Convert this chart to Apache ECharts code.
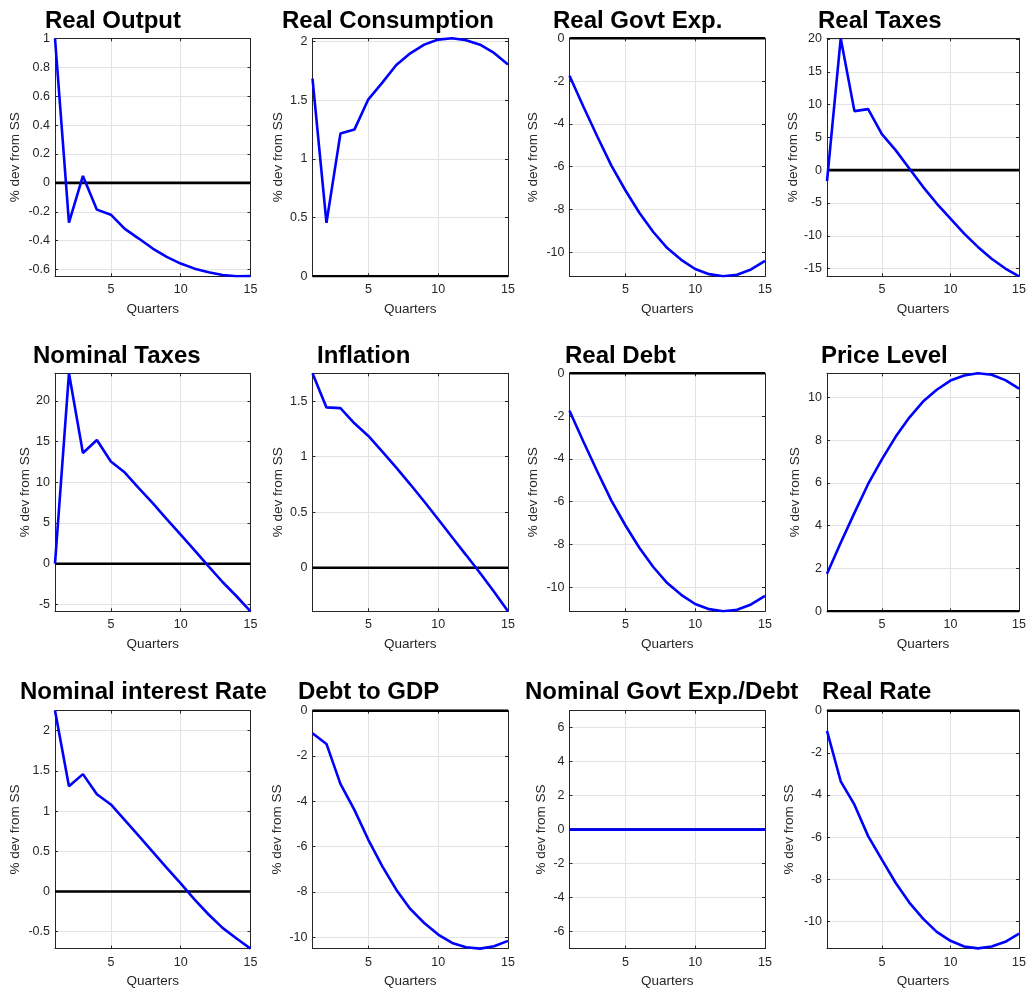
<!DOCTYPE html>
<html>
<head>
<meta charset="utf-8">
<script src="https://cdn.jsdelivr.net/npm/echarts@6/dist/echarts.min.js"></script>
<style>html,body{margin:0;padding:0;background:#fff}#c{width:1029px;height:992px}</style>
</head>
<body>
<div id="c"></div>
<script>
// ---------- data ----------
const quarters = [1,2,3,4,5,6,7,8,9,10,11,12,13,14,15];
const titles = ['Real Output','Real Consumption','Real Govt Exp.','Real Taxes',
                'Nominal Taxes','Inflation','Real Debt','Price Level',
                'Nominal interest Rate','Debt to GDP','Nominal Govt Exp./Debt','Real Rate'];
const realOutput      = [1.0,-0.275,0.048,-0.185,-0.22,-0.318,-0.385,-0.454,-0.512,-0.558,-0.593,-0.618,-0.637,-0.646,-0.645];
const realConsumption = [1.685,0.455,1.216,1.25,1.508,1.65,1.80,1.90,1.974,2.017,2.028,2.011,1.974,1.903,1.804];
const realGovtExp     = [-1.75,-3.2,-4.6,-5.95,-7.1,-8.15,-9.05,-9.8,-10.35,-10.78,-11.02,-11.12,-11.05,-10.8,-10.4];
const realTaxes       = [-1.68,20.1,9.0,9.3,5.5,3.05,0.25,-2.54,-5.09,-7.38,-9.67,-11.7,-13.5,-15.0,-16.18];
const nominalTaxes    = [0.0,23.4,13.6,15.2,12.56,11.2,9.28,7.44,5.48,3.56,1.64,-0.33,-2.25,-4.0,-5.85];
const inflation       = [1.75,1.443,1.437,1.30,1.186,1.045,0.901,0.751,0.596,0.437,0.275,0.114,-0.048,-0.216,-0.392];
const realDebt        = [-1.75,-3.2,-4.6,-5.95,-7.1,-8.15,-9.05,-9.8,-10.35,-10.78,-11.02,-11.12,-11.05,-10.8,-10.4];
const priceLevel      = [1.75,3.2,4.6,5.95,7.1,8.15,9.05,9.8,10.35,10.78,11.02,11.12,11.05,10.8,10.4];
const nominalRate     = [2.25,1.31,1.46,1.21,1.083,0.888,0.693,0.494,0.295,0.10,-0.10,-0.286,-0.452,-0.585,-0.71];
const debtToGDP       = [-1.0,-1.47,-3.23,-4.38,-5.7,-6.87,-7.9,-8.75,-9.37,-9.88,-10.25,-10.44,-10.5,-10.4,-10.16];
const nomGovtExpDebt  = [0,0,0,0,0,0,0,0,0,0,0,0,0,0,0];
const realRate        = [-0.96,-3.35,-4.46,-5.95,-7.06,-8.16,-9.1,-9.86,-10.49,-10.91,-11.18,-11.27,-11.18,-10.96,-10.57];
const panelData = [realOutput,realConsumption,realGovtExp,realTaxes,nominalTaxes,inflation,
                   realDebt,priceLevel,nominalRate,debtToGDP,nomGovtExpDebt,realRate];
const xTicks = [5,10,15];
const yTicks = [
  [-0.6,-0.4,-0.2,0,0.2,0.4,0.6,0.8,1],
  [0,0.5,1,1.5,2],
  [-10,-8,-6,-4,-2,0],
  [-15,-10,-5,0,5,10,15,20],
  [-5,0,5,10,15,20],
  [0,0.5,1,1.5],
  [-10,-8,-6,-4,-2,0],
  [0,2,4,6,8,10],
  [-0.5,0,0.5,1,1.5,2],
  [-10,-8,-6,-4,-2,0],
  [-6,-4,-2,0,2,4,6],
  [-10,-8,-6,-4,-2,0]
];
const yLimits = [
  [-0.646,1.0],[0,2.028],[-11.12,0],[-16.18,20.1],
  [-5.85,23.4],[-0.392,1.75],[-11.12,0],[0,11.12],
  [-0.71,2.25],[-10.5,0],[-7,7],[-11.28,0]
];
const xLabel = 'Quarters';
const yLabel = '% dev from SS';

// ---------- layout ----------
const colLeft = [55, 312.5, 569.5, 827];
const rowTop = [38.3, 373.3, 710.6];
const gw = 195.5, gh = 238;
const titleLeft = [45,282,553,818, 33,317,565,821, 20,298,525,822];
const titleTop = [9, 344, 680];
const yNameGap = [33,27,29,27, 23,27,29,25, 33,28,21,31];
const axisColor = '#262626';
const gridColor = '#e3e3e3';
const tickFont = 12.5, nameFont = 13.5;
const fam = '"Liberation Sans", Arial, Helvetica, sans-serif';

const grid = [], xAxis = [], yAxis = [], series = [], title = [];
panelData.forEach((vals, i) => {
  const r = Math.floor(i / 4), c = i % 4;
  grid.push({left: colLeft[c], top: rowTop[r], width: gw, height: gh, containLabel: false});
  title.push({text: titles[i], left: titleLeft[i], top: titleTop[r], padding: 0,
    textStyle: {fontFamily: fam, fontSize: 24, fontWeight: 'bold', color: '#000'}});
  const lineStyle = {color: axisColor, width: 1};
  // bottom x
  xAxis.push({type: 'value', gridIndex: i, min: 1, max: 15, position: 'bottom',
    name: xLabel, nameLocation: 'middle', nameGap: 26,
    nameTextStyle: {fontFamily: fam, fontSize: nameFont, color: axisColor},
    axisLine: {show: true, onZero: false, lineStyle},
    axisTick: {show: true, inside: true, length: 3, customValues: xTicks, lineStyle},
    axisLabel: {show: true, margin: 7, customValues: xTicks, fontFamily: fam, fontSize: tickFont, color: axisColor},
    splitLine: {show: true, lineStyle: {color: gridColor, width: 1}}
  });
  // top x (box)
  xAxis.push({type: 'value', gridIndex: i, min: 1, max: 15, position: 'top',
    axisLine: {show: true, onZero: false, lineStyle},
    axisTick: {show: true, inside: true, length: 3, customValues: xTicks, lineStyle},
    axisLabel: {show: false}, splitLine: {show: false}
  });
  // left y
  yAxis.push({type: 'value', gridIndex: i, min: yLimits[i][0], max: yLimits[i][1], position: 'left',
    name: yLabel, nameLocation: 'middle', nameGap: yNameGap[i],
    nameTextStyle: {fontFamily: fam, fontSize: nameFont, color: axisColor},
    axisLine: {show: true, onZero: false, lineStyle},
    axisTick: {show: true, inside: true, length: 3, customValues: yTicks[i], lineStyle},
    axisLabel: {show: true, margin: 5, customValues: yTicks[i], fontFamily: fam, fontSize: tickFont, color: axisColor},
    splitLine: {show: true, lineStyle: {color: gridColor, width: 1}}
  });
  // right y (box)
  yAxis.push({type: 'value', gridIndex: i, min: yLimits[i][0], max: yLimits[i][1], position: 'right',
    axisLine: {show: true, onZero: false, lineStyle},
    axisTick: {show: true, inside: true, length: 3, customValues: yTicks[i], lineStyle},
    axisLabel: {show: false}, splitLine: {show: false}
  });
  // zero line
  series.push({type: 'line', xAxisIndex: 2*i, yAxisIndex: 2*i, symbol: 'none', silent: true,
    data: quarters.map(q => [q, 0]), lineStyle: {color: '#000', width: 2.6}, z: 2});
  // response
  series.push({type: 'line', xAxisIndex: 2*i, yAxisIndex: 2*i, symbol: 'none', silent: true,
    data: quarters.map((q, k) => [q, vals[k]]), lineStyle: {color: '#0000ff', width: 2.6}, z: 3});
});

const chart = echarts.init(document.getElementById('c'), null, {renderer: 'canvas'});
chart.setOption({animation: false, backgroundColor: '#fff', title, grid, xAxis, yAxis, series});
</script>
</body>
</html>
